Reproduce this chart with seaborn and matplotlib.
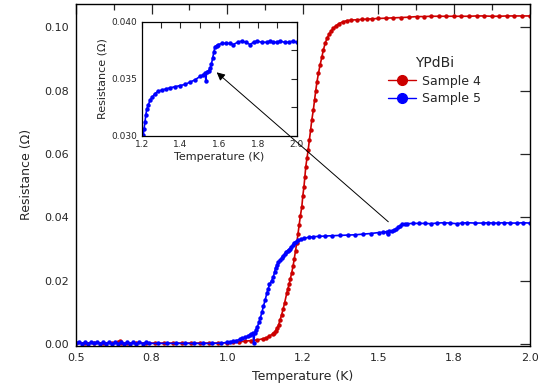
import numpy as np
import pandas as pd
import seaborn as sns
import matplotlib.pyplot as plt
from matplotlib.lines import Line2D
from matplotlib.ticker import MultipleLocator, FormatStrFormatter

# -------------------------------
# Dados: (T em K, R em Ohm)
# -------------------------------
pontos_s4 = [
    (0.50, .0003), (0.53, .0004), (0.56, .0003), (0.59, .0004), (0.62, .0003),
    (0.64, .0005), (0.645, .0010), (0.65, .0004), (0.67, .0003), (0.70, .0004),
    (0.73, .0003), (0.76, .0003), (0.79, .0003), (0.82, .0003), (0.85, .0003),
    (0.88, .0003), (0.91, .0003), (0.94, .0003), (0.97, .0003), (1.00, .0004),
    (1.02, .0005), (1.04, .0007), (1.06, .0009), (1.08, .0011), (1.10, .0013),
    (1.12, .0017), (1.13, .0020), (1.14, .0025), (1.15, .0032), (1.155, .0036),
    (1.16, .0042), (1.165, .0050), (1.17, .0060), (1.175, .0076), (1.18, .0092),
    (1.185, .0110), (1.19, .0130), (1.197, .0160), (1.201, .0175), (1.205, .0190),
    (1.209, .0206), (1.213, .0223), (1.218, .0246), (1.222, .0270), (1.226, .0294),
    (1.230, .0318), (1.234, .0346), (1.238, .0375), (1.242, .0404), (1.247, .0434),
    (1.250, .0466), (1.254, .0497), (1.257, .0528), (1.260, .0560), (1.264, .0587),
    (1.268, .0613), (1.272, .0645), (1.276, .0676), (1.280, .0708), (1.285, .0739),
    (1.289, .0770), (1.293, .0800), (1.297, .0828), (1.302, .0855), (1.307, .0880),
    (1.313, .0905), (1.318, .0928), (1.324, .0949), (1.330, .0965), (1.337, .0978),
    (1.344, .0988), (1.351, .0997), (1.360, .1005), (1.370, .1012), (1.382, .1017),
    (1.395, .1021), (1.410, .1023), (1.430, .1024), (1.445, .1025), (1.462, .1026),
    (1.480, .1027), (1.500, .1028), (1.525, .1029), (1.550, .1030), (1.575, .1031),
    (1.600, .1032), (1.627, .1034), (1.650, .1034), (1.675, .1035), (1.700, .1035),
    (1.725, .1035), (1.750, .1035), (1.775, .1035), (1.800, .1035), (1.825, .1036),
    (1.850, .1036), (1.875, .1035), (1.900, .1035), (1.925, .1036), (1.950, .1036),
    (1.975, .1036), (2.000, .1036),
]

pontos_s5 = [
    (0.50, .0003), (0.51, .0006), (0.52, .0001), (0.53, .0005), (0.54, .0000),
    (0.55, .0006), (0.56, .0002), (0.57, .0005), (0.58, .0000), (0.59, .0006),
    (0.60, .0001), (0.61, .0005), (0.62, .0000), (0.63, .0006), (0.64, .0001),
    (0.65, .0005), (0.66, .0000), (0.67, .0006), (0.68, .0001), (0.69, .0005),
    (0.70, .0000), (0.71, .0006), (0.72, .0001), (0.73, .0005), (0.74, .0002),
    (0.77, .0002), (0.80, .0002), (0.83, .0002), (0.86, .0002), (0.89, .0002),
    (0.92, .0002), (0.95, .0002), (0.98, .0003), (1.00, .0005), (1.01, .0007),
    (1.02, .0009), (1.03, .0011), (1.043, .0015), (1.05, .0018), (1.06, .0021),
    (1.068, .0025), (1.075, .0028), (1.08, .0031), (1.085, .0034), (1.088, .0004),
    (1.091, .0036), (1.095, .0045), (1.10, .0055), (1.105, .0068), (1.109, .0081),
    (1.115, .0100), (1.12, .0120), (1.126, .0140), (1.131, .0160), (1.136, .0175),
    (1.14, .0188), (1.147, .0200), (1.153, .0213), (1.157, .0228), (1.16, .0240),
    (1.165, .0250), (1.169, .0258), (1.175, .0265), (1.18, .0272), (1.185, .0278),
    (1.19, .0284), (1.195, .0290), (1.20, .0295), (1.204, .0298), (1.208, .0301),
    (1.212, .0306), (1.217, .0312), (1.221, .0318), (1.226, .0323), (1.234, .0327),
    (1.243, .0331), (1.255, .0334), (1.269, .0337), (1.285, .0339), (1.303, .0340),
    (1.325, .0341), (1.346, .0342), (1.372, .0343), (1.398, .0344), (1.424, .0345),
    (1.449, .0347), (1.475, .0349), (1.501, .0352), (1.515, .0353), (1.528, .0355),
    (1.531, .0348), (1.535, .0356), (1.545, .0357), (1.553, .0359), (1.56, .0363),
    (1.566, .0368), (1.572, .0373), (1.578, .0378), (1.587, .0379), (1.596, .0380),
    (1.615, .0381), (1.636, .0381), (1.655, .0381), (1.673, .0380), (1.695, .0382),
    (1.716, .0383), (1.737, .0382), (1.759, .0380), (1.777, .0382), (1.794, .0383),
    (1.82, .0382), (1.845, .0382), (1.862, .0383), (1.88, .0382), (1.897, .0382),
    (1.914, .0383), (1.937, .0382), (1.96, .0382), (1.98, .0383), (2.00, .0382),
]

amostras = ["Sample 4", "Sample 5"]
cores = {"Sample 4": "#cc0000", "Sample 5": "#0000ff"}

df = pd.concat([
    pd.DataFrame(pontos_s4, columns=["T", "R"]).assign(amostra=amostras[0]),
    pd.DataFrame(pontos_s5, columns=["T", "R"]).assign(amostra=amostras[1]),
], ignore_index=True)

# -------------------------------
# Figura principal
# -------------------------------
sns.set_style("white")
plt.rcParams["font.family"] = ["DejaVu Sans"]

fig = plt.figure(figsize=(5.39, 3.92), dpi=100)
ax = fig.add_axes([0.141, 0.118, 0.8414, 0.8717])

sns.lineplot(data=df, x="T", y="R", hue="amostra", palette=cores, marker="o",
             markersize=3.2, markeredgewidth=0, linewidth=1.2, sort=False,
             estimator=None, legend=False, ax=ax)

ax.set_xlim(0.5, 2.0)
ax.set_ylim(-0.00054, 0.10736)
ax.xaxis.set_major_locator(MultipleLocator(0.25))
ax.xaxis.set_minor_locator(MultipleLocator(0.125))
ax.xaxis.set_major_formatter(FormatStrFormatter("%.1f"))
ax.yaxis.set_major_locator(MultipleLocator(0.02))
ax.yaxis.set_major_formatter(FormatStrFormatter("%.2f"))
ax.tick_params(which="both", direction="in", top=True, right=True, labelsize=8,
               width=0.9, pad=5)
ax.tick_params(which="major", length=7)
ax.tick_params(which="minor", length=4)
ax.set_xlabel("Temperature (K)", fontsize=9, labelpad=5)
ax.set_ylabel("Resistance (\u03a9)", fontsize=9, labelpad=8)
for s in ax.spines.values():
    s.set_linewidth(1.0)
    s.set_color("black")

handles = [Line2D([], [], color=cores[a], marker="o", markersize=7, lw=1.0)
           for a in amostras]
leg = ax.legend(handles, amostras, title="YPdBi", loc="upper left",
                bbox_to_anchor=(377 / 539, 1 - 45 / 392), bbox_transform=fig.transFigure,
                frameon=False, fontsize=9, title_fontsize=10, handlelength=2.2,
                handletextpad=0.5, labelspacing=0.35)

# -------------------------------
# Inset (Sample 5 ampliada)
# -------------------------------
ins = fig.add_axes([0.2629, 0.6538, 0.2876, 0.2908])
sns.lineplot(data=df[df["amostra"] == "Sample 5"], x="T", y="R", color=cores["Sample 5"],
             marker="o", markersize=3.2, markeredgewidth=0, linewidth=1.2, sort=False,
             estimator=None, legend=False, ax=ins)
ins.set_xlim(1.2, 2.0)
ins.set_ylim(0.030, 0.040)
ins.xaxis.set_major_locator(MultipleLocator(0.2))
ins.xaxis.set_minor_locator(MultipleLocator(0.1))
ins.xaxis.set_major_formatter(FormatStrFormatter("%.1f"))
ins.yaxis.set_major_locator(MultipleLocator(0.005))
ins.yaxis.set_minor_locator(MultipleLocator(0.0025))
ins.yaxis.set_major_formatter(FormatStrFormatter("%.3f"))
ins.tick_params(which="both", direction="in", top=True, right=True, labelsize=6.5,
                length=4, width=0.8, pad=3)
ins.set_xlabel("Temperature (K)", fontsize=8, labelpad=2)
ins.set_ylabel("Resistance (\u03a9)", fontsize=8, labelpad=3)
for s in ins.spines.values():
    s.set_linewidth(0.9)
    s.set_color("black")

# seta do dado principal para o inset
an = ins.annotate("", xy=(1.587, 0.03556), xycoords="data",
                  xytext=(1.533, 0.0386), textcoords=ax.transData,
                  arrowprops=dict(arrowstyle="-|>", color="black", lw=0.7,
                                  mutation_scale=12, shrinkA=0, shrinkB=0),
                  annotation_clip=False)
an.arrow_patch.set_clip_on(False)

fig.savefig("out.png", dpi=100)
